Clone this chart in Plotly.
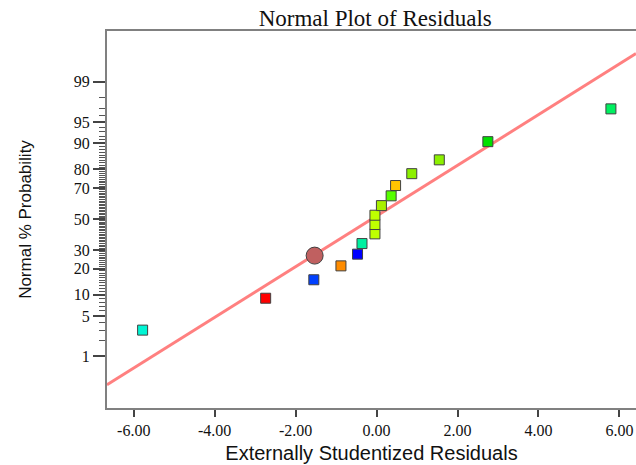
from statistics import NormalDist
import plotly.graph_objects as go

# Data
residuals = [-5.78, -2.74, -1.55, -0.88, -0.47, -0.36, -0.04, -0.04, -0.04,
             0.12, 0.36, 0.47, 0.87, 1.55, 2.75, 5.79]
probability = [3.0, 9.0, 15.2, 21.4, 27.6, 33.9, 40.1, 46.3, 52.6,
               59.0, 65.3, 71.5, 77.9, 84.2, 90.5, 96.9]
point_colors = ["#00F5D4", "#FF0000", "#0040FF", "#FF8C00", "#0000FF", "#00F0A0",
                "#BFFF00", "#BFFF00", "#BFFF00", "#A8F000", "#55FF00", "#FFC400",
                "#8CF000", "#8CF000", "#00E000", "#00F060"]

highlight_x = [-1.53]
highlight_p = [26.8]

line_mean = -0.12
line_sd = 2.33

prob_ticks = [1, 5, 10, 20, 30, 50, 70, 80, 90, 95, 99]
prob_minor = list(range(1, 100))

x_range = [-6.66, 6.41]
x_ticks = [-6, -4, -2, 0, 2, 4, 6]

nd = NormalDist()
z = lambda p: nd.inv_cdf(p / 100.0)

fig = go.Figure()

# fitted normal line
lx = x_range
lz = [(v - line_mean) / line_sd for v in lx]
fig.add_trace(go.Scatter(x=lx, y=lz, mode="lines",
                         line=dict(color="#FF8080", width=3), hoverinfo="skip"))

fig.add_trace(go.Scatter(
    x=residuals, y=[z(p) for p in probability], mode="markers",
    marker=dict(symbol="square", size=10, color=point_colors,
                line=dict(color="#404040", width=1))))

fig.add_trace(go.Scatter(
    x=highlight_x, y=[z(p) for p in highlight_p], mode="markers",
    marker=dict(symbol="circle", size=17, color="#C06060",
                line=dict(color="#404040", width=1))))

fig.update_layout(
    width=636, height=465,
    margin=dict(l=107, r=0, t=31, b=57, autoexpand=False),
    paper_bgcolor="white", plot_bgcolor="white",
    showlegend=False,
    title=dict(text="Normal Plot of Residuals", x=0.59, xanchor="center",
               y=1 - 18 / 465, yanchor="middle", automargin=False,
               font=dict(family="Liberation Serif", size=23, color="#111")),
    xaxis=dict(range=x_range, tickvals=x_ticks, automargin=False,
               ticktext=[f"{v:.2f}" for v in x_ticks],
               ticks="outside", ticklen=7, tickwidth=1.5, tickcolor="#444",
               showline=True, linecolor="#808080", linewidth=2, mirror=True,
               showgrid=False, zeroline=False,
               tickfont=dict(family="Liberation Serif", size=16, color="#111"),
               title=dict(text="Externally Studentized Residuals", standoff=8,
                          font=dict(family="Liberation Sans", size=20, color="#111"))),
    yaxis=dict(range=[-3.2, 3.185], tickvals=[z(p) for p in prob_ticks],
               ticktext=[str(p) for p in prob_ticks], automargin=False,
               ticks="outside", ticklen=12, tickwidth=1.5, tickcolor="#444",
               minor=dict(tickvals=[z(p) for p in prob_minor], ticks="outside",
                          ticklen=6, tickwidth=1, tickcolor="#555"),
               showline=True, linecolor="#808080", linewidth=2, mirror=False,
               showgrid=False, zeroline=False,
               tickfont=dict(family="Liberation Serif", size=16, color="#111"),
               title=dict(text="Normal % Probability", standoff=38,
                          font=dict(family="Liberation Sans", size=17, color="#111"))),
)

fig.write_html("out.html", config={"displayModeBar": False},
               post_script="document.body.style.margin='0px';")
